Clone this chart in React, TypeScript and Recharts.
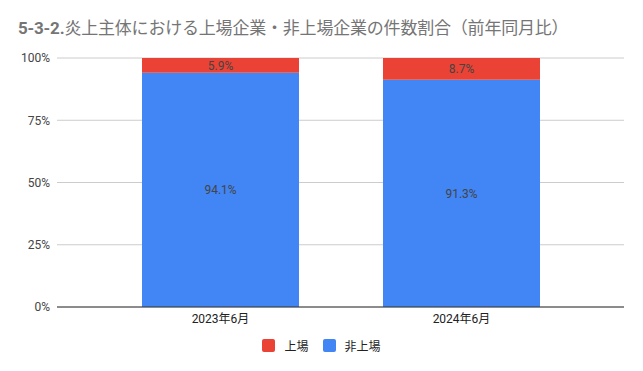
import { BarChart, Bar, XAxis, YAxis, CartesianGrid, Legend, LabelList } from "recharts";

const months = ["2023年6月", "2024年6月"];
const listed = [5.9, 8.7];
const unlisted = [94.1, 91.3];
const yTicks = [0, 25, 50, 75, 100];

const RED = "#ea4335";
const BLUE = "#4285f4";

const data = months.map((m, i) => ({ month: m, listed: listed[i], unlisted: unlisted[i] }));

const legendItems = [
  { name: "上場", color: RED },
  { name: "非上場", color: BLUE },
];

function LegendBox() {
  return (
    <div style={{ display: "flex", justifyContent: "center", alignItems: "center", fontSize: 12, color: "#222", fontFamily: "Roboto, 'Noto Sans CJK JP', sans-serif", height: 16 }}>
      {legendItems.map((it, i) => (
        <div key={it.name} style={{ display: "flex", alignItems: "center", marginLeft: i ? 14 : 0 }}>
          <span style={{ display: "inline-block", width: 13, height: 13, background: it.color, borderRadius: 2, marginRight: 9 }} />
          <span>{it.name}</span>
        </div>
      ))}
    </div>
  );
}

const fmt = (v: any) => `${Number(v).toFixed(1)}%`;

export default function App() {
  return (
    <div style={{ position: "absolute", left: 0, top: 0, width: 643, height: 371, background: "#fff", fontFamily: "Roboto, 'Noto Sans CJK JP', sans-serif" }}>
      <div style={{ position: "absolute", left: 18, top: 18, fontSize: 17, color: "#757575", whiteSpace: "nowrap", lineHeight: "20px", letterSpacing: -0.2 }}>
        <span style={{ fontWeight: "bold" }}>5-3-2.</span>炎上主体における上場企業・非上場企業の件数割合（前年同月比）
      </div>
      <BarChart width={643} height={371} data={data} margin={{ top: 58, right: 19, bottom: 18, left: 0 }} barCategoryGap={0}>
        <CartesianGrid vertical={false} stroke="#cccccc" />
        <XAxis dataKey="month" padding={{ left: 43, right: 42 }} tickLine={false} tickSize={0} tickMargin={7} axisLine={{ stroke: "#333", strokeWidth: 1 }} tick={{ fill: "#222", fontSize: 12 }} />
        <YAxis width={57} domain={[0, 100]} ticks={yTicks} tickFormatter={(v) => `${v}%`} axisLine={false} tickLine={false} tickSize={0} tickMargin={7} tick={{ fill: "#444", fontSize: 12 }} />
        <Legend verticalAlign="bottom" content={() => <LegendBox />} wrapperStyle={{ left: 0, width: 643, bottom: 18 }} />
        <Bar dataKey="unlisted" name="非上場" stackId="a" fill={BLUE} barSize={157} isAnimationActive={false}>
          <LabelList dataKey="unlisted" position="center" formatter={fmt} fill="#444" fontSize={12} />
        </Bar>
        <Bar dataKey="listed" name="上場" stackId="a" fill={RED} barSize={157} isAnimationActive={false}>
          <LabelList dataKey="listed" position="center" formatter={fmt} fill="#444" fontSize={12} />
        </Bar>
      </BarChart>
    </div>
  );
}
